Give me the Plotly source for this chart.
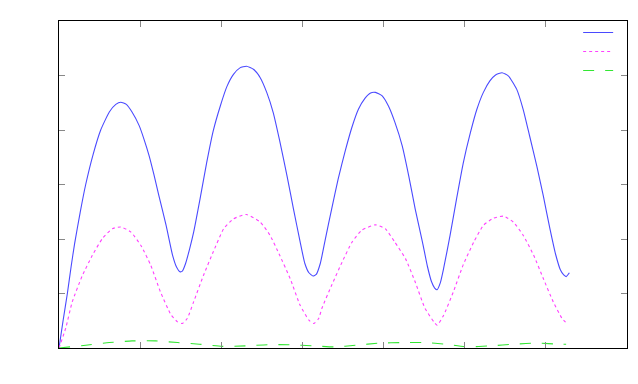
import plotly.graph_objects as go

# Series 1 (blue, solid)
blue_x = [0, 0.05, 0.103, 0.15, 0.193, 0.26, 0.329, 0.42, 0.514, 0.62, 0.70, 0.761, 0.83, 0.90, 0.988,
          1.05, 1.11, 1.17, 1.23, 1.32, 1.40, 1.45, 1.49, 1.52, 1.56, 1.61, 1.66,
          1.74, 1.82, 1.90, 1.99, 2.07, 2.15, 2.23, 2.31, 2.40, 2.48, 2.56, 2.64, 2.72,
          2.81, 2.89, 2.97, 3.03, 3.08, 3.13, 3.17, 3.22,
          3.28, 3.36, 3.44, 3.53, 3.61, 3.69, 3.77, 3.84, 3.90, 3.98, 4.06, 4.14, 4.23,
          4.31, 4.39, 4.48, 4.54, 4.59, 4.63, 4.66, 4.70, 4.74,
          4.82, 4.90, 4.98, 5.07, 5.15, 5.23, 5.31, 5.38, 5.46, 5.54, 5.64, 5.72, 5.80,
          5.89, 5.97, 6.05, 6.12, 6.18, 6.22, 6.25, 6.29]
blue_y = [0, 0.50, 1.00, 1.50, 1.92, 2.48, 3.00, 3.55, 4.00, 4.33, 4.47, 4.51, 4.47, 4.33, 4.08,
          3.82, 3.53, 3.18, 2.80, 2.25, 1.70, 1.48, 1.40, 1.41, 1.55, 1.82, 2.13,
          2.75, 3.40, 3.98, 4.45, 4.80, 5.02, 5.14, 5.17, 5.11, 4.96, 4.69, 4.32, 3.80,
          3.16, 2.55, 1.96, 1.55, 1.38, 1.32, 1.35, 1.55,
          1.98, 2.55, 3.10, 3.63, 4.05, 4.38, 4.58, 4.68, 4.69, 4.63, 4.44, 4.14, 3.71,
          3.16, 2.55, 1.94, 1.50, 1.22, 1.10, 1.07, 1.20, 1.46,
          2.07, 2.74, 3.38, 3.95, 4.38, 4.69, 4.90, 5.01, 5.05, 4.99, 4.75, 4.38, 3.89,
          3.33, 2.78, 2.19, 1.72, 1.43, 1.34, 1.31, 1.38]

# Series 2 (magenta, short dashes)
mag_x = [0, 0.082, 0.164, 0.288, 0.411, 0.535, 0.658, 0.761, 0.884, 1.01, 1.13, 1.25,
         1.38, 1.46, 1.52, 1.58, 1.66, 1.78, 1.90, 2.03, 2.15, 2.31, 2.48, 2.60, 2.72,
         2.85, 2.97, 3.08, 3.14, 3.20, 3.24, 3.36, 3.49, 3.61, 3.73, 3.90, 4.02, 4.14,
         4.27, 4.39, 4.51, 4.62, 4.66, 4.74, 4.86, 4.98, 5.11, 5.23, 5.35, 5.48, 5.60,
         5.72, 5.85, 5.97, 6.09, 6.20, 6.26]
mag_y = [0, 0.36, 0.85, 1.33, 1.70, 2.01, 2.19, 2.22, 2.13, 1.88, 1.52, 1.03,
         0.61, 0.48, 0.45, 0.54, 0.85, 1.33, 1.76, 2.19, 2.37, 2.45, 2.31, 2.07, 1.70,
         1.27, 0.79, 0.51, 0.45, 0.54, 0.73, 1.15, 1.58, 1.94, 2.16, 2.26, 2.19, 1.94,
         1.64, 1.21, 0.73, 0.48, 0.42, 0.60, 1.03, 1.52, 1.94, 2.25, 2.38, 2.42, 2.31,
         2.07, 1.70, 1.27, 0.85, 0.54, 0.45]

# Series 3 (green, long dashes)
grn_x = [0, 0.33, 0.62, 0.90, 1.19, 1.46, 1.73, 2.01, 2.30, 2.57, 2.84, 3.13, 3.39,
         3.66, 3.95, 4.23, 4.50, 4.77, 5.03, 5.32, 5.61, 5.90, 6.17, 6.25]
grn_y = [0, 0.05, 0.10, 0.13, 0.13, 0.10, 0.07, 0.03, 0.04, 0.06, 0.06, 0.04, 0.02,
         0.05, 0.09, 0.10, 0.10, 0.07, 0.02, 0.04, 0.07, 0.09, 0.07, 0.07]

x_ticks = [0, 1, 2, 3, 4, 5, 6, 7]
y_ticks = [0, 1, 2, 3, 4, 5, 6]

fig = go.Figure()
fig.add_trace(go.Scatter(x=blue_x, y=blue_y, mode="lines", name="",
                         line=dict(color="#4a4aff", width=1.1, shape="spline", smoothing=0.5)))
fig.add_trace(go.Scatter(x=mag_x, y=mag_y, mode="lines", name="",
                         line=dict(color="#ff40ff", width=1.1, dash="3px,3px",
                                   shape="spline", smoothing=0.5)))
fig.add_trace(go.Scatter(x=grn_x, y=grn_y, mode="lines", name="",
                         line=dict(color="#33e633", width=1.1, dash="11px,11px",
                                   shape="spline", smoothing=0.5)))

axis_common = dict(showgrid=False, zeroline=False, showticklabels=False,
                   ticks="inside", ticklen=6, tickcolor="#888888", tickwidth=1,
                   showline=True, linecolor="black", linewidth=1, mirror="ticks")

# the page body adds an 8px offset, so the figure is sized to fit inside it
fig.update_layout(
    width=630, height=376,
    margin=dict(l=51, r=11, t=12, b=36),
    paper_bgcolor="white", plot_bgcolor="white",
    showlegend=True,
    legend=dict(x=0.914, xanchor="left", y=1.006, yanchor="top",
                bgcolor="rgba(0,0,0,0)", font=dict(size=7),
                tracegroupgap=0, itemwidth=30),
    xaxis=dict(range=[0, 7], tickvals=x_ticks, **axis_common),
    yaxis=dict(range=[0, 6], tickvals=y_ticks, **axis_common),
)

fig.write_html("out.html")
